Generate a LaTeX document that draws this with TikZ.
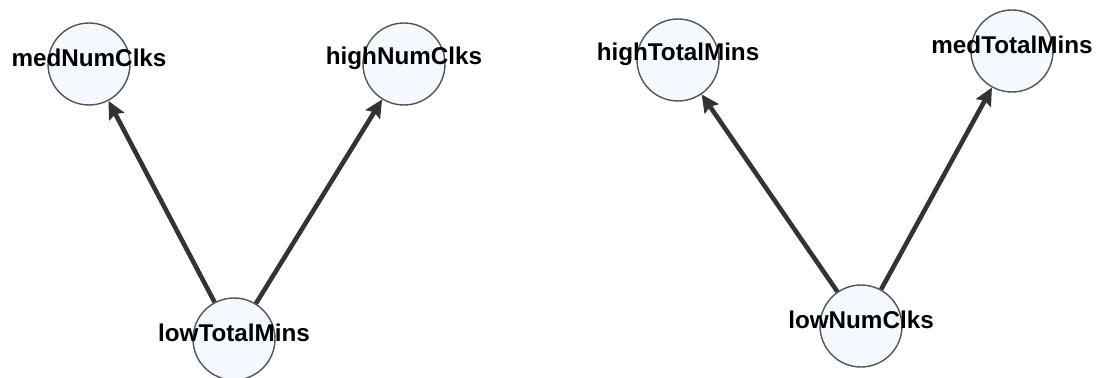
\documentclass[tikz,border=0pt]{standalone}
\usepackage{fontspec}
\setmainfont{Liberation Sans}
\usetikzlibrary{arrows.meta}

\definecolor{nodefill}{HTML}{F4F9FF}
\definecolor{nodeline}{HTML}{555555}
\definecolor{edgeline}{HTML}{333333}

\begin{document}
\begin{tikzpicture}[x=0.02cm,y=-0.02cm,
var/.style={circle,draw=nodeline,fill=nodefill,line width=0.8pt,minimum size=1.64cm,inner sep=0pt},
lbl/.style={font=\fontsize{13.8}{16}\selectfont\bfseries,text=black,inner sep=0pt},
dep/.style={draw=edgeline,line width=2.6pt,-{Stealth[length=10pt,width=9.5pt,inset=1.5pt]}}
]
\useasboundingbox (0,0) rectangle (1099,378);
% left graph
\node (mnc) [var,label={[lbl,yshift=3.5pt]center:medNumClks}] at (89,64) {};
\node (hnc) [var,label={[lbl,yshift=3.5pt]center:highNumClks}] at (404,64) {};
\node (ltm) [var] at (234,339) {};
\draw[dep] (ltm) -- (mnc);
\draw[dep] (ltm) -- (hnc);
\node (ltmlbl) [lbl] at ([yshift=3.5pt]ltm.center) {lowTotalMins};
% right graph
\node (htm) [var,label={[lbl,yshift=3.5pt]center:highTotalMins}] at (678,60) {};
\node (mtm) [var,label={[lbl,yshift=3.5pt]center:medTotalMins}] at (1012,51) {};
\node (lnc) [var] at (861,326) {};
\draw[dep] (lnc) -- (htm);
\draw[dep] (lnc) -- (mtm);
\node (lnclbl) [lbl] at ([yshift=3.5pt]lnc.center) {lowNumClks};
\end{tikzpicture}
\end{document}
